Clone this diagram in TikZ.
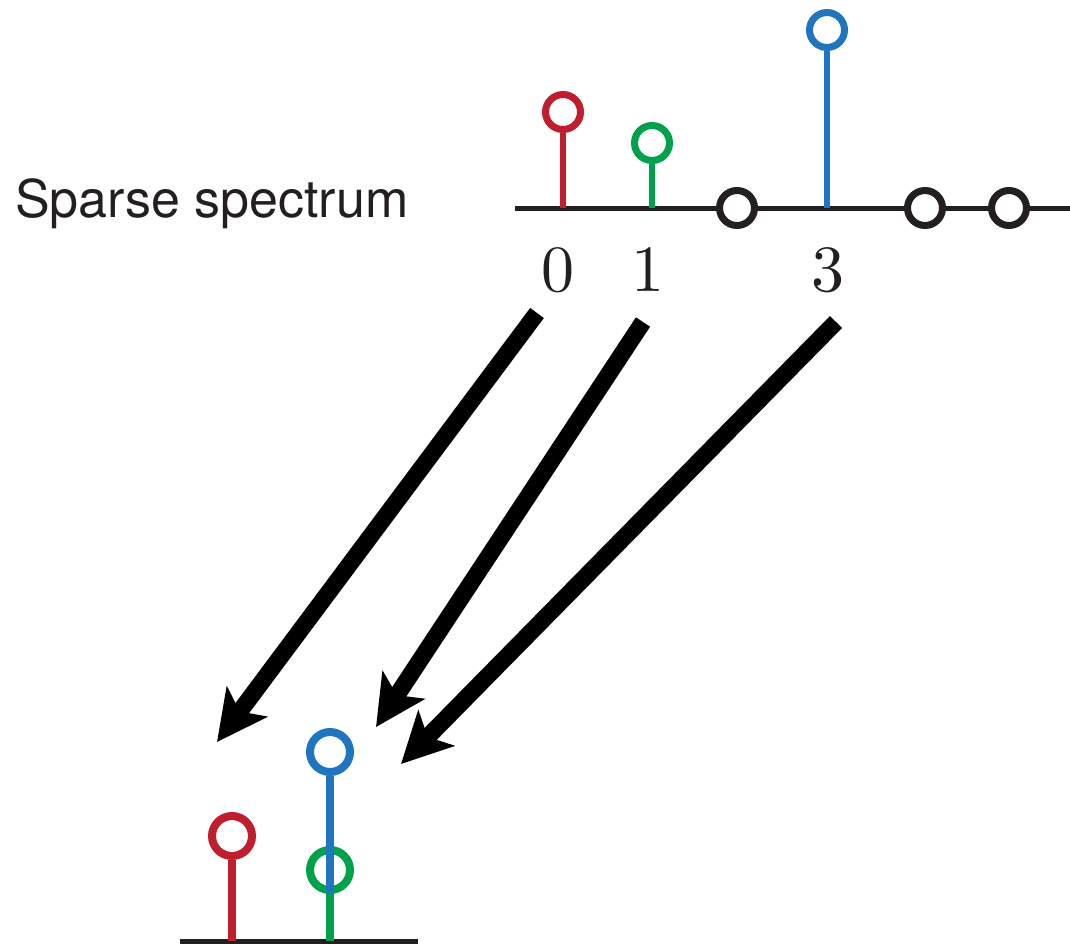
\documentclass[tikz,border=0pt]{standalone}
\usepackage{fontspec}
\newfontfamily\labelfont{TeX Gyre Heros}
\newfontfamily\digitfont{lmroman10-regular.otf}
\usetikzlibrary{arrows.meta}
\definecolor{sred}{HTML}{BE1E2D}
\definecolor{sgreen}{HTML}{00A14B}
\definecolor{sblue}{HTML}{1F75BE}
\definecolor{sblack}{HTML}{231F20}
\begin{document}
\begin{tikzpicture}[x=1pt,y=-1pt,
  axis/.style={draw=sblack,line width=5pt},
  stem/.style={line width=6.5pt},
  ring/.style={circle,draw=#1,fill=white,line width=7pt,minimum size=35pt,inner sep=0pt},
  bigring/.style={circle,draw=#1,line width=8pt,minimum size=40pt,inner sep=0pt},
  bigstem/.style={line width=8pt},
  digit/.style={inner sep=0pt,text=sblack,font=\digitfont\fontsize{66}{70}\selectfont},
  mapto/.style={draw=black,line width=17pt,-{Stealth[length=50pt,width=50pt,inset=12pt]}}]
\useasboundingbox (0,0) rectangle (1070,948);

% title
\node[anchor=base west,inner sep=0pt,text=sblack,font=\labelfont\fontsize{52}{60}\selectfont] (title) at (15,217) {Sparse spectrum};

% sparse spectrum: axis
\coordinate (aL) at (515,208);
\coordinate (aR) at (1070,208);
\draw[axis] (aL) -- (aR);
\coordinate (b0) at (563,208);
\coordinate (b1) at (652,208);
\coordinate (b3) at (827,208);

% non-zero coefficients
\node[ring=sred] (c0) at (563,112) {};
\node[ring=sgreen] (c1) at (652,143) {};
\node[ring=sblue] (c3) at (827,30) {};
\draw[stem,sred] (b0) -- (c0.south);
\draw[stem,sgreen] (b1) -- (c1.south);
\draw[stem,sblue] (b3) -- (c3.south);

% zero coefficients
\node[ring=sblack] (z2) at (737,208) {};
\node[ring=sblack] (z4) at (925,208) {};
\node[ring=sblack] (z5) at (1009,208) {};

% indices
\node[digit] (n0) at (558,270) {0};
\node[digit] (n1) at (648,270) {1};
\node[digit] (n3) at (828,270) {3};

% folded spectrum
\coordinate (dL) at (180,941);
\coordinate (dR) at (418,941);
\draw[axis] (dL) -- (dR);
\coordinate (e0) at (232,941);
\coordinate (e1) at (330,941);
\node[bigring=sred] (f0) at (232,836) {};
\node[bigring=sgreen] (f1) at (330,870) {};
\node[bigring=sblue] (f3) at (330,752) {};
\draw[bigstem,sred] (e0) -- (f0.south);
\draw[bigstem,sgreen] (e1) -- (f1.south);
\draw[bigstem,sblue] (f1.south) -- (f3.south);

% folding arrows
\coordinate (s0) at (537,313);
\coordinate (t0) at (217,742);
\coordinate (s1) at (643,322);
\coordinate (t1) at (376,727);
\coordinate (s3) at (836,322);
\coordinate (t3) at (401,764);
\draw[mapto] (s0) -- (t0);
\draw[mapto] (s1) -- (t1);
\draw[mapto] (s3) -- (t3);
\end{tikzpicture}
\end{document}
